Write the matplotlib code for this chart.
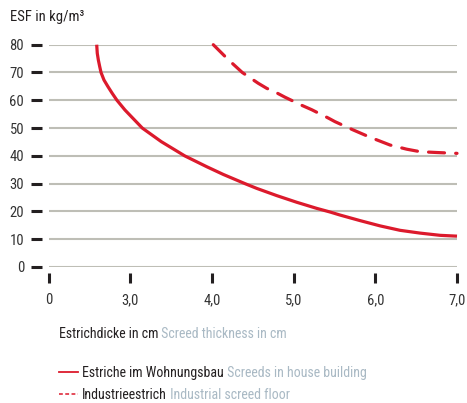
import matplotlib
matplotlib.use("Agg")
import matplotlib.pyplot as plt
from matplotlib.lines import Line2D
from matplotlib.text import Annotation
from matplotlib import font_manager

# ---- data ----
house_x = [2.590, 2.597, 2.610, 2.627, 2.643, 2.679, 2.728, 2.780, 2.838, 2.936, 3.148,
           3.381, 3.667, 3.936, 4.140, 4.405, 4.548, 4.793, 5.038, 5.283, 5.445, 5.568,
           5.813, 6.058, 6.303, 6.548, 6.793, 7.0]
house_y = [80, 76.9, 74.5, 72.1, 70, 67.3, 64.9, 62.5, 60, 56.5, 50,
           45.1, 40, 36.1, 33.3, 30, 28.3, 25.7, 23.3, 21.1, 19.8, 18.7,
           16.7, 14.8, 13.2, 12.2, 11.4, 11.1]
ind_x = [4.017, 4.201, 4.372, 4.568, 4.671, 4.772, 4.895, 5.099, 5.222, 5.425, 5.507,
         5.731, 5.935, 6.180, 6.384, 6.548, 6.751, 7.0]
ind_y = [80, 74.6, 70.0, 66.1, 64.3, 63.0, 61.1, 58.2, 56.6, 53.6, 52.3,
         49.3, 46.7, 43.9, 42.4, 41.5, 41.2, 40.9]
x_ticks = [2, 3, 4, 5, 6, 7]
x_ticklabels = ["0", "3,0", "4,0", "5,0", "6,0", "7,0"]
y_ticks = [0, 10, 20, 30, 40, 50, 60, 70, 80]

RED = "#DC1A2C"
DARK = "#231F20"
LIGHT = "#A9B9C4"
GRID = "#BEBEB6"

avail = {f.name for f in font_manager.fontManager.ttflist}
fam = "Liberation Sans Narrow" if "Liberation Sans Narrow" in avail else "Roboto Condensed" if "Roboto Condensed" in avail else "Liberation Sans"
plt.rcParams["font.family"] = [fam, "DejaVu Sans"]

fig = plt.figure(figsize=(4.67, 4.03), dpi=100)
ax = fig.add_axes([48.5/467, 1-267/403, (457-48.5)/467, (267-44.7)/403])

ax.set_xlim(2, 7)
ax.set_ylim(0, 80)
ax.set_yticks(y_ticks)
ax.set_xticks(x_ticks)
ax.set_xticklabels(x_ticklabels)
ax.yaxis.grid(True, color=GRID, lw=1.5)
ax.set_axisbelow(True)
for s in ["top", "right"]:
    ax.spines[s].set_visible(False)
for s in ["left", "bottom"]:
    ax.spines[s].set_position(("outward", 4.5))
    ax.spines[s].set_visible(False)
ax.tick_params(axis="y", direction="out", length=8, width=2.2, color=DARK, pad=5,
               labelsize=10.5, labelcolor="#333333")
ax.tick_params(axis="x", direction="out", length=7.2, width=2.2, color=DARK, pad=7,
               labelsize=10.5, labelcolor="#333333")

ax.plot(house_x, house_y, color=RED, lw=2.3, solid_capstyle="butt",
        solid_joinstyle="round", clip_on=False)
ax.plot(ind_x, ind_y, color=RED, lw=2.3, dashes=(5, 3.5), dash_capstyle="round",
        dash_joinstyle="round", clip_on=False)

# y-axis title
fig.text(10/467, 1-17/403, "ESF in kg/m³", fontsize=10.5, color=DARK, ha="left", va="center")

# x-axis title (two-coloured)
t1 = fig.text(59/467, 1-338/403, "Estrichdicke in cm", fontsize=10, color=DARK,
              ha="left", va="baseline")
fig.add_artist(Annotation(" Screed thickness in cm", xy=(1, 0), xycoords=t1, fontsize=10,
                          color=LIGHT, ha="left", va="bottom", annotation_clip=False))

# legend
h1 = Line2D([], [], color=RED, lw=1.3)
h2 = Line2D([], [], color=RED, lw=1.1, dashes=(2.5, 1.6))
leg = fig.legend([h1, h2], ["Estriche im Wohnungsbau", "Industrieestrich"],
                 loc="upper left", bbox_to_anchor=(59/467, 1-366/403), frameon=False,
                 fontsize=10, handlelength=1.37, handletextpad=0.3, labelspacing=0.6,
                 borderpad=0, borderaxespad=0)
for txt, extra in zip(leg.get_texts(), [" Screeds in house building", " Industrial screed floor"]):
    txt.set_color(DARK)
    a = Annotation(extra, xy=(1, 0), xycoords=txt, fontsize=10, color=LIGHT,
                   ha="left", va="bottom", annotation_clip=False)
    a.set_zorder(20)
    fig.add_artist(a)

fig.savefig("out.png", dpi=100)
